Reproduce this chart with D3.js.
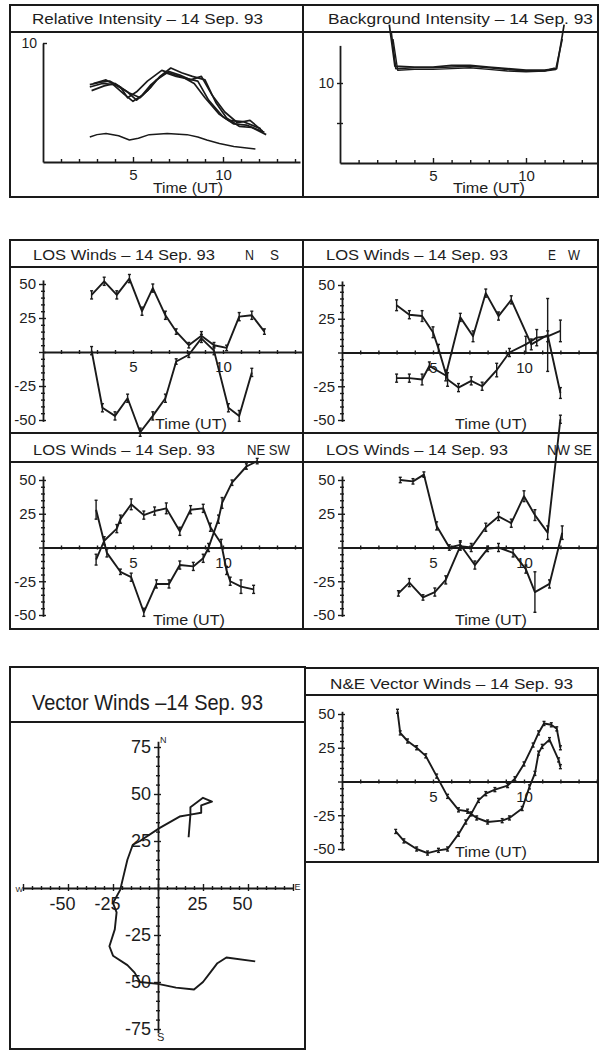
<!DOCTYPE html>
<html>
<head>
<meta charset="utf-8">
<script src="https://cdn.jsdelivr.net/npm/d3@7"></script>
<style>
  html, body { margin: 0; padding: 0; background: #fff; }
  svg { display: block; }
  text { font-family: "Liberation Sans", Arial, sans-serif; fill: #1d1d1d; }
</style>
</head>
<body>
<svg id="fig" width="599" height="1052"></svg>
<script>
// ---------- Relative intensity, 14 Sep 93 (four overlapping traces + weak trace) ----------
const relTimeA = [2.6, 3.2, 3.7, 4.3, 4.7, 5.2, 5.8, 6.6, 7.2, 7.8, 8.4, 9.0, 9.8, 10.3, 11.1, 12.1];
const relA     = [6.5, 6.7, 6.8, 6.3, 5.4, 5.9, 6.8, 7.7, 7.4, 7.1, 6.6, 5.4, 4.0, 3.5, 3.4, 2.8];
const relTimeB = [2.6, 3.3, 3.9, 4.5, 5.0, 5.5, 6.0, 6.8, 7.4, 8.0, 8.6, 9.2, 10.0, 10.6, 11.3, 12.3];
const relB     = [6.3, 6.6, 6.5, 5.7, 5.1, 5.6, 6.5, 7.5, 7.2, 7.0, 6.8, 5.2, 3.8, 3.2, 3.1, 2.5];
const relTimeC = [2.7, 3.4, 4.0, 4.6, 5.2, 5.8, 6.3, 7.0, 7.6, 8.2, 8.8, 9.4, 10.1, 10.8, 11.5, 12.2];
const relC     = [6.0, 6.4, 6.6, 6.0, 5.2, 6.0, 6.9, 7.6, 7.3, 6.9, 7.2, 5.6, 4.2, 3.3, 3.5, 2.6];
const relTimeD = [2.8, 3.5, 4.1, 4.8, 5.4, 6.0, 6.5, 7.1, 7.7, 8.3, 9.0, 9.6, 10.2, 10.9, 11.6, 12.4];
const relD     = [6.6, 6.9, 6.4, 5.8, 5.4, 6.3, 7.2, 7.9, 7.5, 7.2, 6.9, 5.0, 3.7, 3.0, 2.9, 2.3];
const relLowTime = [2.6, 3.0, 3.5, 4.2, 4.8, 5.3, 5.9, 6.9, 8.0, 8.6, 9.1, 9.8, 10.6, 11.2, 11.8];
const relLow     = [2.1, 2.3, 2.4, 2.2, 1.85, 2.0, 2.3, 2.4, 2.3, 2.1, 1.85, 1.55, 1.3, 1.2, 1.1];

// ---------- Background intensity ----------
const bgTimeA = [2.65, 2.95, 4, 5, 6, 7, 8, 9, 10, 11, 11.65, 12.05];
const bgA     = [17.3, 12.1, 12.0, 12.0, 12.2, 12.2, 12.0, 11.8, 11.6, 11.6, 11.8, 17.3];
const bgTimeB = [2.75, 3.0, 4, 5, 6, 7, 8, 9, 10, 11, 11.6, 11.95];
const bgB     = [16.5, 11.8, 11.9, 11.9, 12.0, 12.1, 11.9, 11.7, 11.5, 11.5, 11.7, 15.5];
const bgTimeC = [2.85, 3.1, 4, 5, 6, 7, 8, 9, 10, 11, 11.55];
const bgC     = [15.5, 11.6, 11.7, 11.7, 11.8, 11.9, 11.7, 11.5, 11.4, 11.5, 11.9];

// ---------- Line-of-sight winds (m/s) ----------
const nsTimeA = [2.7, 3.4, 4.1, 4.8, 5.5, 6.1, 6.8, 7.4, 8.1, 8.8, 9.5, 10.2, 10.9, 11.6, 12.3];
const nsA     = [42, 52, 42, 54, 30, 47, 27, 15, 5, 12, 5, 3, 26, 27, 15];
const nsErrA  = [3, 3, 3, 3, 3, 3, 3, 2, 2, 3, 2, 2, 3, 3, 2];
const nsTimeB = [2.7, 3.3, 4.0, 4.7, 5.4, 6.1, 6.8, 7.4, 8.1, 8.8, 9.5, 10.3, 10.9, 11.6];
const nsB     = [1, -41, -47, -34, -59, -47, -34, -7, -2, 10, 1, -41, -47, -15];
const nsErrB  = [3, 3, 3, 3, 3, 3, 3, 2, 2, 3, 3, 3, 4, 3];

const ewTimeA = [3.0, 3.7, 4.4, 5.0, 5.3, 5.8, 6.4, 7.1, 7.7, 8.5, 9.2, 10.1, 10.7, 11.3, 12.0];
const ewA     = [35, 28, 27, 15, 3, -20, -26, -21, -25, -13, 0, 6, 11, 12, 16];
const ewErrA  = [4, 3, 4, 4, 3, 5, 3, 3, 3, 5, 3, 6, 6, 4, 8];
const ewTimeB = [3.0, 3.7, 4.4, 4.8, 5.7, 6.5, 7.2, 7.9, 8.6, 9.3, 10.4, 11.3, 12.0];
const ewB     = [-19, -19, -20, -10, -17, 26, 12, 44, 27, 39, 6, 13, -30];
const ewErrB  = [3, 3, 4, 3, 4, 3, 4, 3, 3, 3, 4, 27, 4];

const neTimeA = [2.95, 3.55, 4.3, 4.9, 5.6, 6.3, 7.0, 7.6, 8.35, 8.9, 9.2, 9.75, 9.95, 10.5, 11.3, 11.9];
const neA     = [28, -4, -18, -22, -48, -27, -27, -13, -14, -8, 0, 21, 33, 48, 60, 64];
const neErrA  = [7, 3, 2, 3, 3, 3, 3, 3, 3, 3, 3, 3, 4, 2, 2, 2];
const neTimeB = [2.95, 3.4, 4.1, 4.3, 4.9, 5.6, 6.2, 6.85, 7.6, 8.2, 8.9, 9.3, 9.9, 10.2, 10.4, 11.0, 11.7];
const neB     = [-9, 5, 14, 21, 32, 24, 27, 29, 12, 28, 29, 15, 3, -17, -25, -29, -31];
const neErrB  = [4, 3, 3, 3, 4, 3, 3, 4, 3, 3, 3, 3, 3, 3, 3, 5, 3];

const nwTimeA = [3.2, 3.9, 4.5, 5.2, 5.9, 6.5, 7.3, 8.0, 8.6, 9.4, 10.1, 10.6, 11.4, 12.1];
const nwA     = [50, 49, 54, 16, 0, 2, -13, -1, 0, -4, -16, -33, -27, 11];
const nwErrA  = [2, 2, 2, 3, 2, 3, 3, 2, 3, 3, 3, 15, 3, 5];
const nwTimeB = [3.1, 3.7, 4.45, 5.1, 5.7, 6.5, 7.1, 7.9, 8.6, 9.3, 10.0, 10.6, 11.3, 12.0];
const nwB     = [-34, -26, -37, -33, -24, 1, 0, 15, 23, 18, 38, 24, 11, 95];
const nwErrB  = [2, 3, 2, 3, 3, 3, 3, 3, 3, 3, 4, 4, 5, 3];

// ---------- Vector winds: east and north components ----------
const vecTimeE = [3.05, 3.2, 3.6, 4.1, 4.6, 5.2, 5.8, 6.4, 6.9, 7.4, 8.0, 8.8, 9.2, 9.9, 10.3, 10.6, 10.8, 11.0, 11.4, 11.9, 12.0];
const vecEast  = [52, 36, 30, 25, 19, 4, -11, -21, -22, -27, -30, -29, -27, -20, -4, 6, 21, 26, 31, 16, 11];
const vecTimeN = [2.95, 3.4, 4.1, 4.7, 5.3, 5.8, 6.4, 6.8, 7.1, 7.5, 7.9, 8.4, 9.1, 9.5, 10.0, 10.5, 10.8, 11.1, 11.5, 11.8, 12.0];
const vecNorth = [-37, -44, -50, -53, -51, -50, -39, -30, -24, -14, -9, -6, -3, 2, 13, 27, 36, 43, 42, 39, 25];

// Hodograph trace (east, north components in m/s)
const hodoEast  = [54, 38, 33, 29, 25, 20, 10, 0, -10, -13, -17, -25, -27, -24, -23, -25, -21, -17, -14, -10, 1, 12, 18, 18, 25, 30, 24, 24, 18, 17];
const hodoNorth = [-39, -37, -40, -45, -50, -54, -53, -51, -50, -45, -41, -36, -31, -22, -13, -8, -1, 15, 23, 25, 32, 38, 39, 43, 48, 46, 44, 40, 39, 27];

// ---------- Labels ----------
const dateLabel = "14 Sep. 93";
const timeLabel = "Time (UT)";
const hourTickLabels = [5, 10];
const losTickLabels = [-50, -25, 25, 50];
const hodoTickLabels = [-75, -50, -25, 25, 50, 75];

// ================= drawing =================
const ink = "#1a1a1a";
const svg = d3.select("#fig");

const zip = (ts, vs, es) => ts.map((t, i) => ({ t, v: vs[i], e: es ? es[i] : 0 }));

function box(x0, y0, x1, y1, sepY) {
  svg.append("rect").attr("x", x0).attr("y", y0)
    .attr("width", x1 - x0).attr("height", y1 - y0)
    .attr("fill", "none").attr("stroke", ink).attr("stroke-width", 2);
  svg.append("line").attr("x1", x0).attr("x2", x1).attr("y1", sepY).attr("y2", sepY)
    .attr("stroke", ink).attr("stroke-width", 2);
}

function text(str, x, y, size, len, anchor) {
  const t = svg.append("text").attr("x", x).attr("y", y)
    .attr("font-size", size).text(str);
  if (len) t.attr("textLength", len).attr("lengthAdjust", "spacingAndGlyphs");
  if (anchor) t.attr("text-anchor", anchor);
  return t;
}

function styleAxis(g, size) {
  g.attr("color", ink).attr("font-family", null).attr("font-size", size);
  g.selectAll("text").attr("fill", ink);
  g.select(".domain").attr("stroke-width", 1.8);
  g.selectAll(".tick line").attr("stroke-width", 1.4);
}

function drawLine(x, y, data, width) {
  svg.append("path").datum(data)
    .attr("fill", "none").attr("stroke", ink)
    .attr("stroke-width", width || 1.9).attr("stroke-linejoin", "round")
    .attr("d", d3.line().x(d => x(d.t)).y(d => y(d.v)));
}

function drawErrors(x, y, data) {
  const g = svg.append("g").attr("stroke", ink).attr("stroke-width", 1.4);
  data.forEach(d => {
    const cx = x(d.t);
    g.append("line").attr("x1", cx).attr("x2", cx).attr("y1", y(d.v - d.e)).attr("y2", y(d.v + d.e));
    g.append("line").attr("x1", cx - 1.5).attr("x2", cx + 1.5).attr("y1", y(d.v - d.e)).attr("y2", y(d.v - d.e));
    g.append("line").attr("x1", cx - 1.5).attr("x2", cx + 1.5).attr("y1", y(d.v + d.e)).attr("y2", y(d.v + d.e));
  });
}

// Hour axis: ticks every hour, labels at 5 and 10
function hourAxis(x, yPos, right, both, labelY) {
  const hMax = x.invert(right);
  const xa = x.copy().domain([0, hMax]).range([x(0), right]);
  const g = svg.append("g").attr("transform", `translate(0,${yPos})`)
    .call(d3.axisBottom(xa)
      .tickValues(d3.range(1, hMax, 1))
      .tickFormat(d => hourTickLabels.includes(d) ? String(d) : "")
      .tickSizeInner(3).tickSizeOuter(0));
  styleAxis(g, 15);
  g.selectAll(".tick line")
    .attr("y1", d => both ? -2 : -(hourTickLabels.includes(d) ? 5 : 3))
    .attr("y2", d => both ? 2 : 0);
  g.selectAll(".tick text").attr("dy", null).attr("y", labelY);
  return g;
}

// ---------- Relative intensity panel ----------
(function () {
  box(10, 5, 303, 197, 32);
  text("Relative Intensity – " + dateLabel, 32, 24, 14, 231);
  const x = d3.scaleLinear().domain([0, 10]).range([43, 223]);
  const y = d3.scaleLinear().domain([0, 10]).range([162, 43]);
  hourAxis(x, y(0), 300, false, 18);
  const gy = svg.append("g").attr("transform", `translate(${x(0)},0)`)
    .call(d3.axisLeft(y).tickValues([10]).tickFormat(d => String(d)).tickSizeInner(-4).tickSizeOuter(0));
  styleAxis(gy, 14);
  gy.selectAll(".tick text").attr("x", -6);
  drawLine(x, y, zip(relTimeA, relA), 1.7);
  drawLine(x, y, zip(relTimeB, relB), 1.7);
  drawLine(x, y, zip(relTimeC, relC), 1.7);
  drawLine(x, y, zip(relTimeD, relD), 1.7);
  drawLine(x, y, zip(relLowTime, relLow), 1.5);
  text(timeLabel, 153, 193, 15, 70);
})();

// ---------- Background intensity panel ----------
(function () {
  box(303, 5, 598, 197, 32);
  const x = d3.scaleLinear().domain([0, 10]).range([340, 526]);
  const y = d3.scaleLinear().domain([0, 15]).range([163, 43]);
  hourAxis(x, y(0), 598, false, 18);
  const gy = svg.append("g").attr("transform", `translate(${x(0)},0)`)
    .call(d3.axisLeft(y.copy().domain([0, 14.7]).range([y(0), y(14.7)]))
      .tickValues([5, 10]).tickFormat(d => d === 10 ? "10" : "")
      .tickSizeInner(3).tickSizeOuter(0));
  styleAxis(gy, 14);
  gy.selectAll(".tick line").attr("x1", -3).attr("x2", 3);
  gy.selectAll(".tick text").attr("x", -6);
  drawLine(x, y, zip(bgTimeA, bgA), 1.7);
  drawLine(x, y, zip(bgTimeB, bgB), 1.6);
  drawLine(x, y, zip(bgTimeC, bgC), 1.4);
  text("Background Intensity – " + dateLabel, 328, 24, 14, 265);
  text(timeLabel, 453, 193, 15, 72);
})();

// ---------- LOS wind panels ----------
function losPanel(p) {
  box(p.left, p.top, p.right, p.bottom, p.sep);
  const x = d3.scaleLinear().domain([0, 10]).range([p.ax, p.ax + 10 * p.hp]);
  const y = d3.scaleLinear().domain([-50, 50]).range([p.y50n, p.y50]);
  hourAxis(x, y(0), p.right, true, 20);
  const ya = y.copy().domain([-51, 53]).range([y(-51), y(53)]);
  const gy = svg.append("g").attr("transform", `translate(${p.ax},0)`)
    .call(d3.axisLeft(ya)
      .tickValues(d3.range(-50, 51, 5))
      .tickFormat(d => losTickLabels.includes(d) ? String(d) : "")
      .tickSizeInner(3).tickSizeOuter(0));
  styleAxis(gy, 15);
  gy.selectAll(".tick line").attr("x1", d => d % 25 === 0 ? -4 : -2).attr("x2", d => d % 25 === 0 ? 3 : 2);
  gy.selectAll(".tick text").attr("x", -7);
  p.series.forEach(s => {
    drawLine(x, y, s, 1.9);
    drawErrors(x, y, s);
  });
  text("LOS Winds – " + dateLabel, p.left + 23, p.sep - 7, 15, 182);
  p.dirs.forEach(d => text(d[0], d[1], p.sep - 7, 15, d[2]));
  text(timeLabel, p.timeX, p.bottom - 4, 15, 72);
}

losPanel({
  left: 10, right: 303, top: 240, bottom: 433, sep: 267,
  ax: 43, hp: 18, y50: 284, y50n: 420, timeX: 155,
  dirs: [["N", 245, 9], ["S", 270, 9]],
  series: [zip(nsTimeA, nsA, nsErrA), zip(nsTimeB, nsB, nsErrB)]
});
losPanel({
  left: 303, right: 598, top: 240, bottom: 433, sep: 267,
  ax: 342, hp: 18.2, y50: 285, y50n: 420, timeX: 455,
  dirs: [["E", 548, 8], ["W", 568, 12]],
  series: [zip(ewTimeA, ewA, ewErrA), zip(ewTimeB, ewB, ewErrB)]
});
losPanel({
  left: 10, right: 303, top: 433, bottom: 629, sep: 462,
  ax: 43, hp: 18, y50: 480, y50n: 615, timeX: 153,
  dirs: [["NE SW", 247, 43]],
  series: [zip(neTimeA, neA, neErrA), zip(neTimeB, neB, neErrB)]
});
losPanel({
  left: 303, right: 598, top: 433, bottom: 629, sep: 462,
  ax: 342, hp: 18.2, y50: 480, y50n: 615, timeX: 455,
  dirs: [["NW SE", 547, 45]],
  series: [zip(nwTimeA, nwA, nwErrA), zip(nwTimeB, nwB, nwErrB)]
});

// ---------- Hodograph ----------
(function () {
  box(10, 667, 305, 1049, 722);
  text("Vector Winds –14 Sep. 93", 32, 710, 22, 231);
  const x = d3.scaleLinear().domain([-75, 75]).range([23, 293]);
  const y = d3.scaleLinear().domain([-75, 75]).range([1029, 747]);

  const gx = svg.append("g").attr("transform", `translate(0,${y(0)})`)
    .call(d3.axisBottom(x)
      .tickValues(d3.range(-75, 76, 5))
      .tickFormat(d => hodoTickLabels.includes(d) && Math.abs(d) < 75 ? String(d) : "")
      .tickSizeInner(3).tickSizeOuter(0));
  styleAxis(gx, 18);
  gx.selectAll(".tick line").attr("y1", d => d % 25 === 0 ? -4 : -2).attr("y2", d => d % 25 === 0 ? 3 : 2);
  gx.selectAll(".tick text").attr("dy", null).attr("y", 22).attr("dx", -6);

  const gy = svg.append("g").attr("transform", `translate(${x(0)},0)`)
    .call(d3.axisLeft(y.copy().domain([-77, 78]).range([y(-77), y(78)]))
      .tickValues(d3.range(-75, 76, 5))
      .tickFormat(d => hodoTickLabels.includes(d) ? String(d) : "")
      .tickSizeInner(3).tickSizeOuter(0));
  styleAxis(gy, 18);
  gy.selectAll(".tick line").attr("x1", d => d % 25 === 0 ? -4 : -2).attr("x2", d => d % 25 === 0 ? 3 : 2);
  gy.selectAll(".tick text").attr("x", -7);

  text("N", x(0) + 2, y(78) + 2, 9);
  text("S", x(0) - 1, y(-78) + 6, 11);
  text("W", x(-77) - 4, y(0) + 4, 8);
  text("E", x(77) - 2, y(0) + 2, 9);

  const pts = hodoEast.map((e, i) => ({ e, n: hodoNorth[i] }));
  svg.append("path").datum(pts)
    .attr("fill", "none").attr("stroke", ink).attr("stroke-width", 1.9)
    .attr("stroke-linejoin", "round")
    .attr("d", d3.line().x(d => x(d.e)).y(d => y(d.n)));
})();

// ---------- East / north component panel ----------
(function () {
  box(305, 668, 598, 862, 695);
  text("N&E Vector Winds – " + dateLabel, 330, 689, 14, 243);
  const x = d3.scaleLinear().domain([0, 10]).range([342, 524]);
  const y = d3.scaleLinear().domain([-50, 50]).range([849, 714]);
  hourAxis(x, y(0), 598, true, 20);
  const gy = svg.append("g").attr("transform", `translate(342,0)`)
    .call(d3.axisLeft(y.copy().domain([-51, 52]).range([y(-51), y(52)]))
      .tickValues(d3.range(-50, 51, 5))
      .tickFormat(d => losTickLabels.includes(d) ? String(d) : "")
      .tickSizeInner(3).tickSizeOuter(0));
  styleAxis(gy, 15);
  gy.selectAll(".tick line").attr("x1", d => d % 25 === 0 ? -4 : -2).attr("x2", d => d % 25 === 0 ? 3 : 2);
  gy.selectAll(".tick text").attr("x", -7);
  const east = zip(vecTimeE, vecEast, vecEast.map(() => 1.5));
  const north = zip(vecTimeN, vecNorth, vecNorth.map(() => 1.5));
  drawLine(x, y, east, 1.9);
  drawErrors(x, y, east);
  drawLine(x, y, north, 1.9);
  drawErrors(x, y, north);
  text(timeLabel, 455, 857, 15, 72);
})();
</script>
</body>
</html>
